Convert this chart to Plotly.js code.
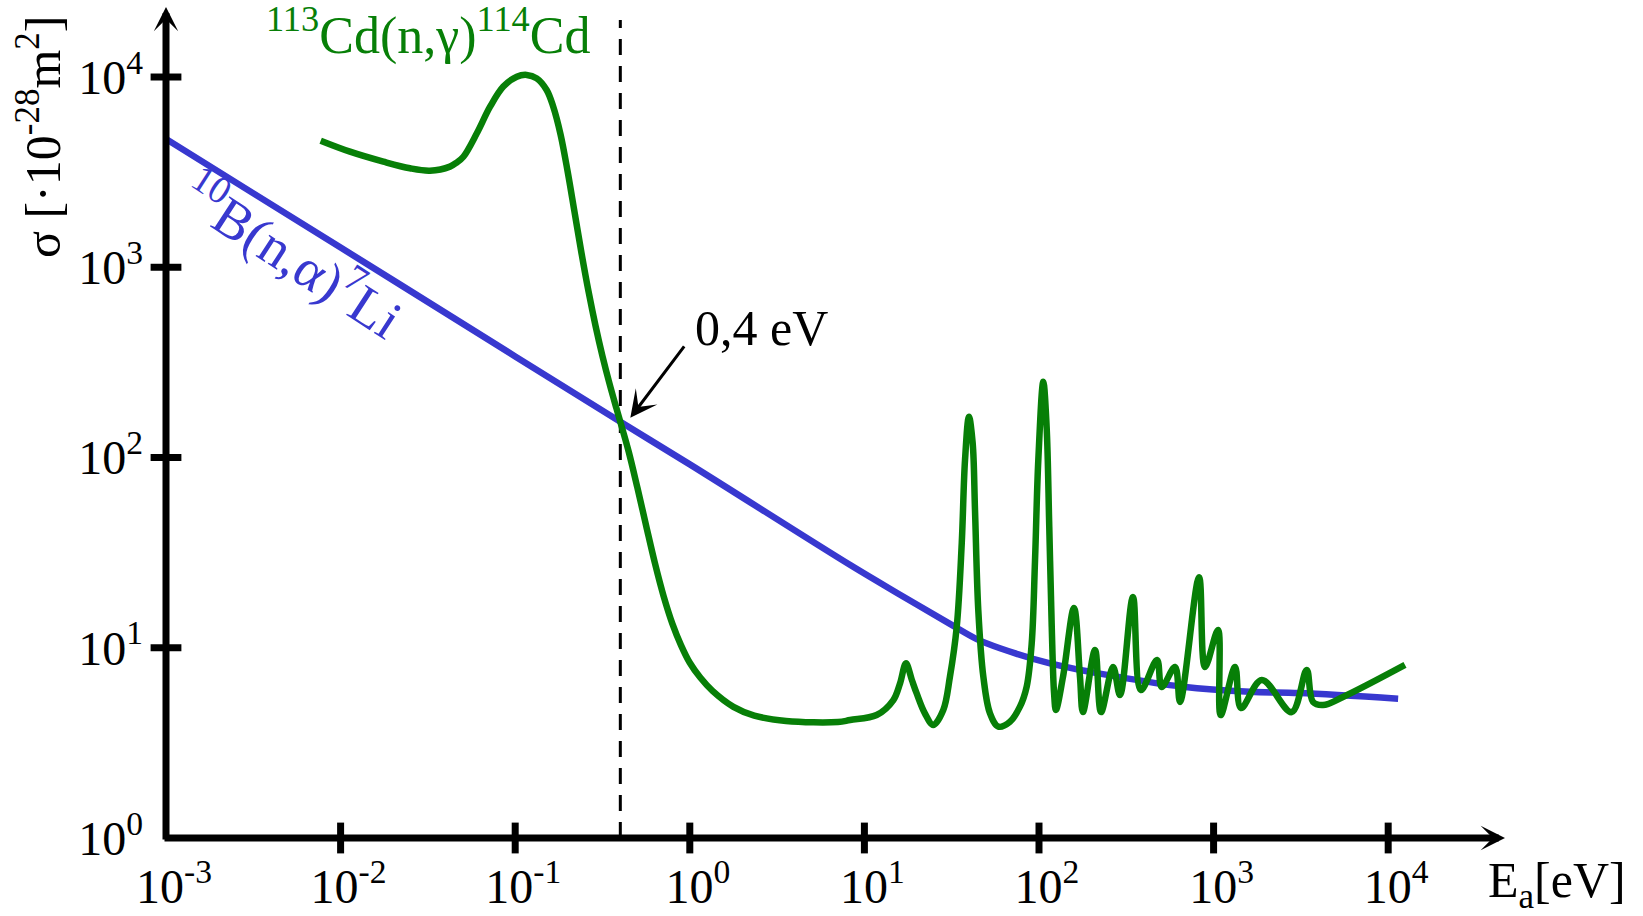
<!DOCTYPE html>
<html>
<head>
<meta charset="utf-8">
<script src="https://cdn.plot.ly/plotly-3.0.1.min.js"></script>
<style>html,body{margin:0;padding:0;background:#fff;}</style>
</head>
<body>
<div id="chart" style="width:1643px;height:916px"></div>
<script>
// Neutron capture cross sections versus neutron energy (log-log)

// 10B(n,alpha)7Li : energy [eV], cross section [1e-28 m^2]
const boronEnergy = [0.001, 0.01, 0.1, 0.4, 1, 8.3, 16, 30.9, 44, 59.8, 115.6, 279, 668, 1614, 3100, 11400];
const boronSigma  = [4720, 1270, 340, 154, 92, 27.2, 19.0, 13.35, 11.1, 9.94, 8.28, 7.05, 6.24, 5.87, 5.78, 5.4];

// 113Cd(n,gamma)114Cd : energy [eV], cross section [1e-28 m^2]
const cadmiumEnergy = [
  0.00769, 0.01132, 0.01758, 0.02495, 0.0325, 0.0423, 0.0462, 0.0505, 0.0603, 0.0718,
  0.0855, 0.1021, 0.1164, 0.1328, 0.1514, 0.1652, 0.1820, 0.1995, 0.2188, 0.2399,
  0.2630, 0.2884, 0.3162, 0.3467, 0.3802, 0.4, 0.4467, 0.5012, 0.5623, 0.6310,
  0.7079, 0.7943, 0.8913, 1.0, 1.148, 1.349, 1.778, 2.34, 3.56, 7.06,
  8.28, 11.75, 14.65, 16.0, 17.3, 18.7, 19.9, 22.2, 24.8, 28.3,
  30.9, 33.8, 36.1, 37.7, 39.7, 41.7, 43.0, 44.9, 48.0, 52.4,
  58.5, 68.2, 77.8, 85.0, 90.8, 94.9, 99.1, 105.8, 110.6, 114.5,
  118.3, 122, 125, 137.2, 158.6, 171.7, 178.6, 209.3, 226.7, 265.5,
  291, 345, 383.6, 474, 504.5, 601, 642.6, 825, 893, 1060,
  1098, 1327, 1436, 1888, 2800, 3413, 3707, 4234, 5510, 12480];
const cadmiumSigma = [
  4625, 4050, 3590, 3313, 3220, 3380, 3550, 3810, 5060, 6980,
  8910, 10040, 10260, 9840, 8550, 6980, 4977, 3199, 1945, 1183,
  746, 493, 341, 245, 181, 154, 107.4, 69.3, 43.8, 27.9,
  18.7, 13.4, 10.3, 8.34, 6.97, 5.93, 4.89, 4.40, 4.12, 4.07,
  4.17, 4.43, 5.31, 6.50, 8.28, 6.77, 5.77, 4.52, 3.93, 4.71,
  7.05, 12.9, 35.4, 97, 164, 119, 53, 15.8, 7.05, 4.52,
  3.85, 4.08, 4.90, 6.24, 10.5, 28.9, 97, 250, 145, 43.3,
  12.9, 5.77, 4.71, 7.02, 16.2, 7.02, 4.59, 9.73, 4.59, 7.92,
  5.64, 18.5, 6.0, 8.62, 6.22, 7.92, 5.19, 23.5, 7.92, 12.4,
  4.43, 7.92, 4.82, 6.77, 4.59, 7.64, 5.19, 5.0, 5.51, 8.12];

// Energy at which both cross sections are equal
const crossingEnergy = 0.4;     // eV
const crossingSigma = 154;      // 1e-28 m^2
const markerTop = 19950;        // upper end of the dashed marker

// Axis ticks
const xTickVals = [1e-3, 1e-2, 1e-1, 1, 10, 100, 1000, 10000];
const xTickText = ['10<sup>-3</sup>', '10<sup>-2</sup>', '10<sup>-1</sup>', '10<sup>0</sup>',
                   '10<sup>1</sup>', '10<sup>2</sup>', '10<sup>3</sup>', '10<sup>4</sup>'];
const yTickVals = [1, 10, 100, 1000, 10000];
const yTickText = ['10<sup>0</sup>', '10<sup>1</sup>', '10<sup>2</sup>', '10<sup>3</sup>', '10<sup>4</sup>'];

// ---- geometry and styles ----
const W = 1643, H = 916;
const L = 166, R = 1505, T = 7, B = 838;          // plot frame in pixels
const xRange = [-3, 4.669], yRange = [0, 4.368];  // decades
const FONT = '"Liberation Serif", "Times New Roman", serif';
const GREEN = '#077f07', BLUE = '#3838cf';
const px = v => (v - L) / (R - L);
const py = v => (B - v) / (B - T);

const traces = [
  { // dashed marker at the crossing energy
    x: [crossingEnergy, crossingEnergy], y: [1, markerTop],
    mode: 'lines', line: { color: 'black', width: 3, dash: '16px,11px' },
    hoverinfo: 'skip', cliponaxis: false
  },
  {
    x: boronEnergy, y: boronSigma, mode: 'lines',
    line: { color: BLUE, width: 6.5, shape: 'spline', smoothing: 1 },
    hoverinfo: 'skip'
  },
  {
    x: cadmiumEnergy, y: cadmiumSigma, mode: 'lines',
    line: { color: GREEN, width: 6.5, shape: 'spline', smoothing: 1 },
    hoverinfo: 'skip'
  },
  { // tick marks crossing the energy axis
    x: xTickVals.slice(1), y: xTickVals.slice(1).map(() => yTickVals[0]),
    mode: 'markers', cliponaxis: false, hoverinfo: 'skip',
    marker: { symbol: 'line-ns', size: 22, line: { width: 7, color: 'black' } }
  },
  { // tick marks crossing the cross-section axis
    x: yTickVals.slice(1).map(() => xTickVals[0]), y: yTickVals.slice(1),
    mode: 'markers', cliponaxis: false, hoverinfo: 'skip',
    marker: { symbol: 'line-ew', size: 22, line: { width: 7, color: 'black' } }
  }
];

const axisArrow = { text: '', showarrow: true, arrowhead: 3, arrowsize: 0.58,
                    arrowwidth: 7, arrowcolor: 'black', xref: 'x', yref: 'y',
                    font: { size: 1 } };

const layout = {
  width: W, height: H,
  margin: { l: L, r: W - R, t: T, b: H - B, pad: 0 },
  paper_bgcolor: 'white', plot_bgcolor: 'white',
  showlegend: false,
  font: { family: FONT, color: 'black' },
  xaxis: {
    type: 'log', range: xRange, tickvals: xTickVals, ticktext: xTickText,
    ticks: '', showline: false, showgrid: false, zeroline: false,
    tickfont: { family: FONT, size: 48, color: 'black' },
    ticklabelstandoff: 16, ticklabelshift: 8
  },
  yaxis: {
    type: 'log', range: yRange, tickvals: yTickVals, ticktext: yTickText,
    ticks: '', showline: false, showgrid: false, zeroline: false,
    tickfont: { family: FONT, size: 48, color: 'black' },
    ticklabelstandoff: 22
  },
  annotations: [
    Object.assign({ x: xRange[1], y: yRange[0], ax: -(R - L + 3), ay: 0 }, axisArrow),
    Object.assign({ x: xRange[0], y: yRange[1], ax: 0, ay: (B - T + 3) }, axisArrow),
    { // pointer to the crossing
      x: Math.log10(crossingEnergy), y: Math.log10(crossingSigma), xref: 'x', yref: 'y',
      xshift: 10, yshift: 4, ax: 55, ay: -73, text: '', showarrow: true,
      font: { size: 1 },
      arrowhead: 3, arrowsize: 1.5, arrowwidth: 3, arrowcolor: 'black'
    },
    { text: '0,4 eV', xref: 'paper', yref: 'paper', x: px(693), y: py(328),
      xanchor: 'left', yanchor: 'middle', showarrow: false,
      font: { family: FONT, size: 50, color: 'black' } },
    { text: '<sup>113</sup>Cd(n,γ)<sup>114</sup>Cd', xref: 'paper', yref: 'paper',
      x: px(428), y: py(32), xanchor: 'center', yanchor: 'middle', showarrow: false,
      font: { family: FONT, size: 52, color: GREEN } },
    { text: '<sup>10</sup>B(n,α)<sup>7</sup>Li', xref: 'paper', yref: 'paper',
      x: px(293), y: py(254), xanchor: 'center', yanchor: 'middle', showarrow: false,
      textangle: 33, font: { family: FONT, size: 55, color: BLUE } },
    { text: 'σ [·10<sup>-28</sup>m<sup>2</sup>]', xref: 'paper', yref: 'paper',
      x: px(40), y: py(137), xanchor: 'center', yanchor: 'middle', showarrow: false,
      textangle: -90, font: { family: FONT, size: 50, color: 'black' } },
    { text: 'E<sub>a</sub>[eV]', xref: 'paper', yref: 'paper',
      x: px(1486), y: py(884), xanchor: 'left', yanchor: 'middle', showarrow: false,
      font: { family: FONT, size: 50, color: 'black' } }
  ]
};

Plotly.newPlot('chart', traces, layout, { staticPlot: true, displayModeBar: false });
</script>
</body>
</html>
